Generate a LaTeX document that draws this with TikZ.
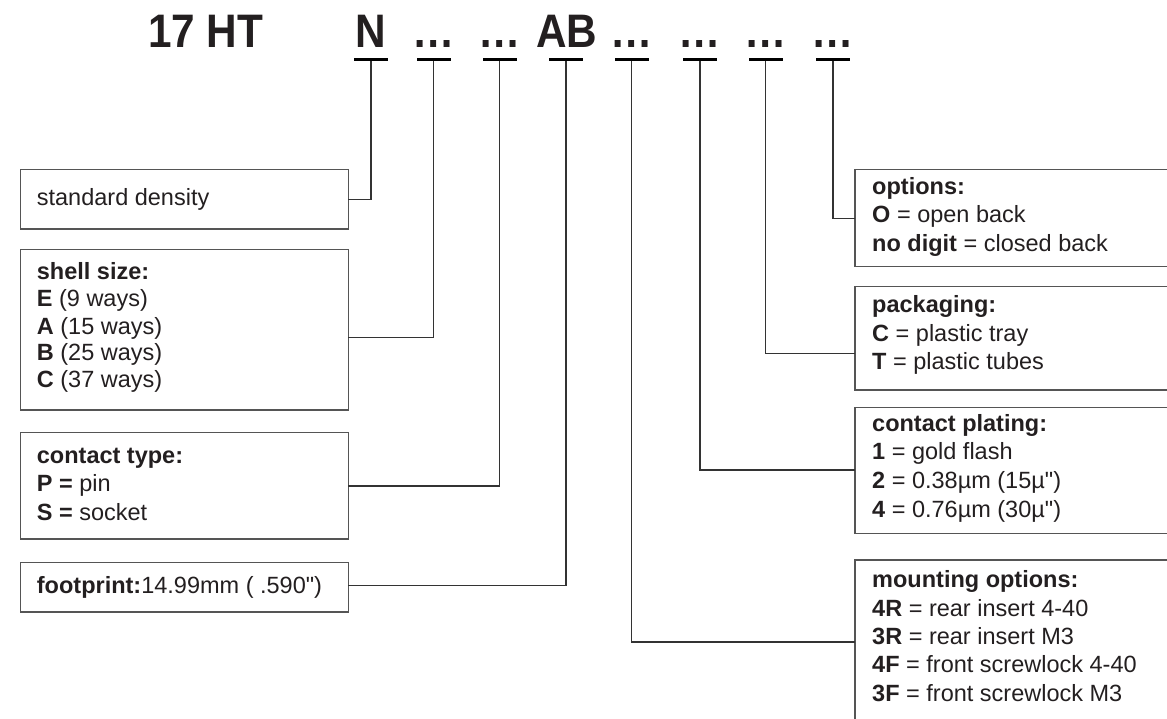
\documentclass[tikz,border=0pt]{standalone}
\usepackage{fontspec}
\setmainfont{Liberation Sans}[Ligatures=TeXOff]
\newfontfamily\hdrfont[FakeStretch=0.9]{Liberation Sans Bold}
\definecolor{boxc}{HTML}{555555}
\definecolor{linec}{HTML}{333333}
\definecolor{txtc}{HTML}{231F20}
\newcommand{\sq}{\symbol{34}}
\begin{document}
\begin{tikzpicture}[x=1pt,y=-1pt,
  box/.style={draw=boxc, line width=1.5pt, inner sep=0pt, outer sep=0pt, anchor=north west},
  conn/.style={draw=linec, line width=1.1pt},
  bar/.style={fill=black, inner sep=0pt, outer sep=0pt, minimum width=34pt, minimum height=3pt},
  txt/.style={anchor=base west, inner sep=0pt, font=\fontsize{23.5}{28}\selectfont, text=txtc},
  hdr/.style={anchor=base, inner sep=0pt, font=\fontsize{47}{52}\hdrfont, text=txtc}]
\useasboundingbox (0,0) rectangle (1167,718);
\clip (0,0) rectangle (1167,718);

% header
\node[hdr, anchor=base west] (pfx) at (148,47) {17 HT};
\node[hdr] (h1) at (371,47) {N};
\node[hdr] (h2) at (434,47) {…};
\node[hdr] (h3) at (499.5,47) {…};
\node[hdr] (h4) at (567,47) {AB};
\node[hdr] (h5) at (631.5,47) {…};
\node[hdr] (h6) at (700,47) {…};
\node[hdr] (h7) at (765.5,47) {…};
\node[hdr] (h8) at (832.5,47) {…};

% bars
\node[bar] (b1) at (371,59.5) {};
\node[bar] (b2) at (433.5,59.5) {};
\node[bar] (b3) at (499.5,59.5) {};
\node[bar] (b4) at (566,59.5) {};
\node[bar] (b5) at (631.5,59.5) {};
\node[bar] (b6) at (700,59.5) {};
\node[bar] (b7) at (765.5,59.5) {};
\node[bar] (b8) at (833,59.5) {};

% left boxes
\node[box, minimum width=327.6pt, minimum height=59.7pt] (std) at (20.7,169.3) {};
\node[box, minimum width=327.6pt, minimum height=160.7pt] (shell) at (20.7,249.3) {};
\node[box, minimum width=327.6pt, minimum height=106.7pt] (contact) at (20.7,432.3) {};
\node[box, minimum width=327.6pt, minimum height=49.7pt] (foot) at (20.7,562.3) {};

% right boxes
\node[box, minimum width=345pt, minimum height=97.4pt] (opts) at (855,169.3) {};
\node[box, minimum width=345pt, minimum height=103.3pt] (pack) at (855,286.7) {};
\node[box, minimum width=345pt, minimum height=126pt] (plat) at (855,407.3) {};
\node[box, minimum width=345pt, minimum height=180pt] (mount) at (855,560) {};

% connectors
\draw[conn] (b1.south) |- (std.east);
\draw[conn] (b2.south) |- (shell.east |- 0,337.7);
\draw[conn] (b3.south) |- (contact.east |- 0,486);
\draw[conn] (b4.south) |- (foot.east |- 0,585.7);
\draw[conn] (b5.south) |- (mount.west |- 0,642);
\draw[conn] (b6.south) |- (plat.west |- 0,470);
\draw[conn] (b7.south) |- (pack.west |- 0,353.3);
\draw[conn] (b8.south) |- (opts.west |- 0,218.3);

% left texts
\node[txt] (t-std) at (36.7,205.7) {standard density};
\node[txt] (t-sh0) at (36.7,279.3) {\textbf{shell size:}};
\node[txt] (t-sh1) at (36.7,306.7) {\textbf{E} (9 ways)};
\node[txt] (t-sh2) at (36.7,334) {\textbf{A} (15 ways)};
\node[txt] (t-sh3) at (36.7,360.7) {\textbf{B} (25 ways)};
\node[txt] (t-sh4) at (36.7,387.3) {\textbf{C} (37 ways)};
\node[txt] (t-ct0) at (36.7,463.3) {\textbf{contact type:}};
\node[txt] (t-ct1) at (36.7,491.7) {\textbf{P =} pin};
\node[txt] (t-ct2) at (36.7,520) {\textbf{S =} socket};
\node[txt] (t-fp) at (36.7,593.3) {\textbf{footprint:}14.99mm ( .590\sq)};

% right texts
\node[txt] (t-op0) at (872,194) {\textbf{options:}};
\node[txt] (t-op1) at (872,222.7) {\textbf{O} = open back};
\node[txt] (t-op2) at (872,251) {\textbf{no digit} = closed back};
\node[txt] (t-pk0) at (872,312.7) {\textbf{packaging:}};
\node[txt] (t-pk1) at (872,341) {\textbf{C} = plastic tray};
\node[txt] (t-pk2) at (872,369.3) {\textbf{T} = plastic tubes};
\node[txt] (t-pl0) at (872,431) {\textbf{contact plating:}};
\node[txt] (t-pl1) at (872,459) {\textbf{1} = gold flash};
\node[txt] (t-pl2) at (872,488) {\textbf{2} = 0.38µm (15µ\sq)};
\node[txt] (t-pl3) at (872,517) {\textbf{4} = 0.76µm (30µ\sq)};
\node[txt] (t-mo0) at (872,587.7) {\textbf{mounting options:}};
\node[txt] (t-mo1) at (872,616) {\textbf{4R} = rear insert 4-40};
\node[txt] (t-mo2) at (872,644) {\textbf{3R} = rear insert M3};
\node[txt] (t-mo3) at (872,672.7) {\textbf{4F} = front screwlock 4-40};
\node[txt] (t-mo4) at (872,701) {\textbf{3F} = front screwlock M3};
\end{tikzpicture}
\end{document}
